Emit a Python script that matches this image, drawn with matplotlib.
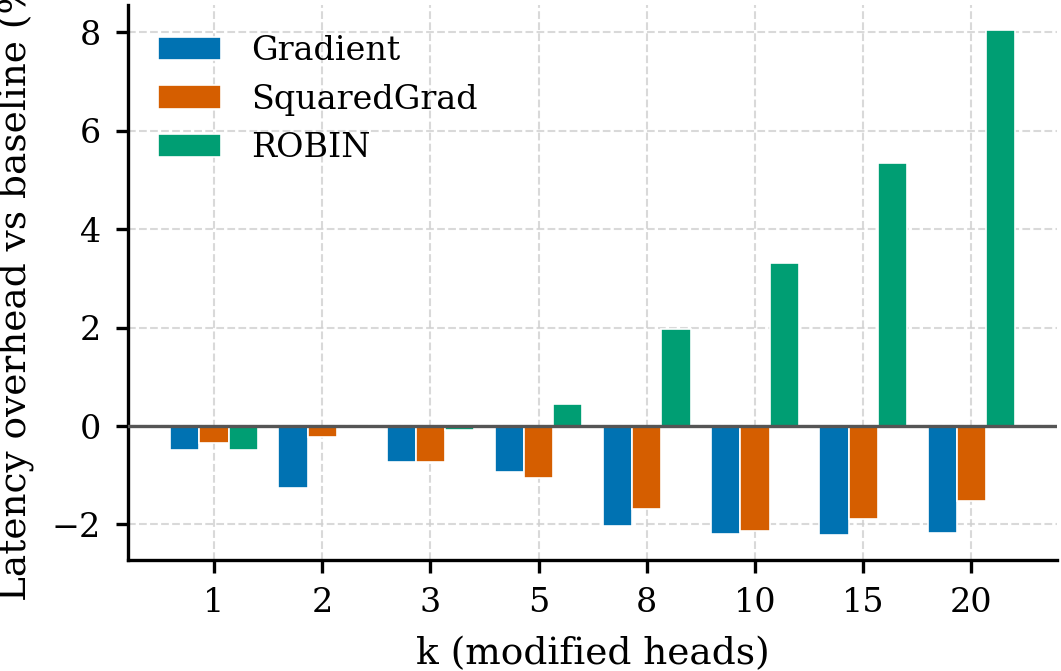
import matplotlib
matplotlib.use("Agg")
import matplotlib.pyplot as plt
import numpy as np

# Data
k_values = ["1", "2", "3", "5", "8", "10", "15", "20"]
gradient = [-0.48, -1.26, -0.73, -0.94, -2.03, -2.20, -2.21, -2.17]
squared_grad = [-0.35, -0.22, -0.73, -1.06, -1.69, -2.13, -1.88, -1.52]
robin = [-0.49, 0.0, -0.08, 0.45, 1.98, 3.31, 5.35, 8.04]

series = [
    ("Gradient", gradient, "#0072B2"),
    ("SquaredGrad", squared_grad, "#D55E00"),
    ("ROBIN", robin, "#009E73"),
]

plt.rcParams["font.family"] = ["DejaVu Serif"]

fig = plt.figure(figsize=(1061 / 300, 671 / 300), dpi=300)
ax = fig.add_axes([0.1206, 0.1654, 0.876, 0.8271])

x = np.arange(len(k_values))
width = 0.27
for i, (name, vals, color) in enumerate(series):
    ax.bar(x + (i - 1) * width, vals, width, label=name, color=color,
           edgecolor="white", linewidth=0.4, zorder=3)

ax.axhline(0, color="#555555", linewidth=0.8, zorder=4)

ax.set_xticks(x)
ax.set_xticklabels(k_values, fontsize=8)
ax.tick_params(axis="y", labelsize=8)
ax.tick_params(length=3, width=0.8)
ax.set_xlabel("k (modified heads)", fontsize=9)
ax.set_ylabel("Latency overhead vs baseline (%)", fontsize=9)

ax.grid(True, linestyle="--", linewidth=0.5, color="#d0d0d0", alpha=0.8, zorder=0)
ax.set_axisbelow(True)
ax.spines["top"].set_visible(False)
ax.spines["right"].set_visible(False)

ax.legend(frameon=False, loc="upper left", fontsize=8, handlelength=1.9,
          handletextpad=0.9)

fig.savefig("out.png", dpi=300)
